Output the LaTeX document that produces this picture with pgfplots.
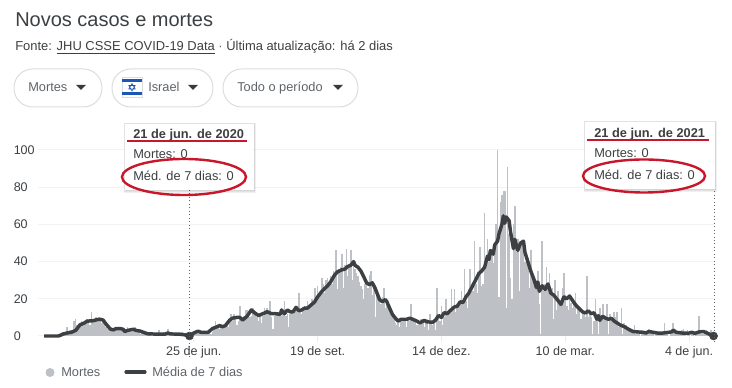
\documentclass[border=0pt]{standalone}
\usepackage{pgfplots}
\usepackage{pgfplotstable}
\pgfplotsset{compat=1.18}
\usepackage{fontspec}
\setmainfont{Liberation Sans}
\definecolor{barc}{HTML}{BDC1C6}
\definecolor{linec}{HTML}{3C4043}
\definecolor{gridc}{HTML}{F1F3F4}
\definecolor{txt}{HTML}{3C4043}
\definecolor{sub}{HTML}{5F6368}
\definecolor{pill}{HTML}{DADCE0}
\definecolor{redm}{HTML}{C8172B}
\definecolor{flagb}{HTML}{1C56B4}
\newcommand{\fs}[1]{\fontsize{#1}{#1}\selectfont}
\pgfplotstableread[row sep=crcr]{
v\\
0\\0\\0\\0\\0\\0\\0\\0\\0\\0\\
0\\0\\1\\2\\1\\2\\5\\1\\3\\2\\
3\\8\\9\\6\\5\\7\\8\\6\\7\\8\\
9\\8\\6\\13\\9\\8\\10\\9\\10\\8\\
7\\8\\6\\5\\4\\3\\3\\4\\2\\3\\
5\\5\\3\\4\\4\\2\\3\\3\\5\\3\\
4\\2\\3\\5\\4\\3\\2\\1\\3\\1\\
1\\1\\1\\1\\1\\0\\1\\1\\1\\1\\
3\\1\\1\\2\\1\\2\\4\\1\\2\\1\\
1\\1\\1\\1\\1\\0\\2\\0\\1\\0\\
0\\0\\0\\1\\1\\2\\1\\3\\2\\1\\
1\\2\\1\\1\\1\\2\\1\\2\\4\\8\\
4\\5\\4\\6\\5\\6\\5\\7\\5\\7\\
12\\8\\12\\9\\6\\8\\16\\10\\8\\11\\
14\\14\\12\\10\\11\\15\\14\\12\\10\\8\\
11\\7\\11\\15\\14\\15\\14\\19\\10\\4\\
11\\12\\13\\13\\12\\11\\14\\19\\11\\12\\
5\\12\\14\\14\\13\\15\\15\\23\\13\\12\\
14\\16\\15\\19\\15\\16\\20\\17\\26\\19\\
27\\21\\24\\31\\28\\23\\30\\31\\27\\32\\
28\\35\\33\\46\\25\\36\\37\\44\\26\\38\\
47\\32\\38\\46\\30\\38\\36\\34\\32\\29\\
27\\25\\20\\28\\30\\26\\33\\35\\22\\27\\
10\\24\\20\\20\\17\\21\\26\\15\\17\\15\\
16\\12\\12\\9\\7\\6\\9\\5\\8\\9\\
8\\9\\5\\9\\8\\17\\8\\9\\8\\6\\
6\\8\\9\\7\\5\\8\\9\\3\\12\\7\\
6\\7\\3\\26\\9\\8\\16\\6\\10\\20\\
13\\12\\14\\25\\16\\25\\13\\15\\17\\17\\
24\\18\\36\\19\\15\\25\\36\\27\\24\\51\\
28\\23\\33\\48\\27\\28\\66\\40\\52\\40\\
42\\44\\39\\46\\60\\100\\21\\72\\76\\78\\
78\\15\\91\\55\\31\\20\\60\\70\\45\\52\\
24\\48\\50\\47\\40\\42\\38\\26\\46\\30\\
32\\28\\30\\35\\17\\1\\51\\24\\28\\37\\
27\\34\\25\\26\\9\\30\\14\\24\\20\\18\\
26\\34\\22\\16\\14\\20\\18\\15\\18\\23\\
12\\15\\14\\9\\13\\12\\10\\32\\10\\12\\
10\\1\\8\\20\\10\\1\\15\\8\\17\\9\\
10\\17\\1\\12\\9\\10\\13\\10\\13\\5\\
6\\15\\1\\7\\6\\4\\5\\4\\3\\2\\
6\\1\\2\\1\\0\\1\\2\\1\\1\\2\\
4\\2\\1\\2\\0\\1\\1\\2\\1\\1\\
2\\7\\2\\1\\0\\2\\1\\7\\3\\1\\
1\\2\\1\\3\\4\\1\\0\\3\\1\\0\\
1\\2\\0\\1\\2\\11\\1\\1\\1\\2\\
3\\1\\2\\3\\1\\0\\
}\deaths
\begin{document}
\begin{tikzpicture}
\useasboundingbox (0,0) rectangle (549pt,291pt);
\begin{axis}[
  at={(28.5pt,39pt)}, anchor=south west,
  scale only axis, width=507pt, height=139.5pt,
  xmin=-4.17, xmax=465.3, ymin=0, ymax=100,
  clip=false,
  axis line style={draw=none},
  ytick={0,20,40,60,80,100},
  ymajorgrids, grid style={gridc,line width=0.75pt},
  ytick style={draw=none},
  xtick={104,190,276,362,448},
  xticklabels={25 de jun.,19 de set.,14 de dez.,10 de mar.,4 de jun.},
  xtick pos=bottom, tick align=outside,
  major tick length=4.5pt,
  xtick style={gridc!70!gray!40,line width=0.75pt},
  tick label style={font=\fs{9.4}, text=txt},
  /pgf/number format/assume math mode=true,
  yticklabel style={anchor=west, xshift=-17.2pt},
]
\addplot[ycomb, draw=barc, line width=1.22pt, mark=none] table[x expr=\coordindex, y=v] {\deaths};
\addplot[linec, line width=2.6pt, line join=round, mark=none] coordinates {
(0,0)(10,0)(12,0.6)(13,1)(16,1.6)(19,2)(22,3)(25,6)(28,7)(30,8)(34,8.2)(37,8.8)(39,9)(41,8.6)(43,6.5)(46,3.8)(48,3.2)(50,4)(53,4)(55,3.6)(56,2.4)(58,3)(62,3.6)(64,3)(67,2.6)(69,2)(72,1.2)(78,1)(84,1)(86,1.6)(88,1.1)(94,1)(98,0.6)(101,0)
(104,1.6)(107,2.6)(109,2)(114,2)(117,4)(119,4.6)(122,5.6)(124,5)(126,5.6)(129,8.6)(131,9.6)(134,10)(136,10)(138,8.6)(141,10.6)(144,14)(146,12.6)(149,11)(152,12)(155,13)(158,12)(161,12)(164,11.6)(165,14)(167,12)(169,14)(171,13)(173,13)(175,15.4)(177,13.6)(179,14)(181,15)(183,15)(186,17)(188,18.4)(190,21)(193,24)(195,25.6)(197,27)(199,29)(200,30.4)(202,33)(204,34.6)(207,35.6)(209,36)(211,37.4)(213,38)(215,40)(216,38)(218,37)(220,35)(222,32)(224,28.6)(226,27.6)(228,28.6)(230,25.6)(233,19.6)(235,18.4)(237,19.6)(238,18.6)(240,15)(242,11.6)(244,9.6)(246,8)(248,9)(252,9)(254,9.6)(256,9)(259,8)(261,7)(264,8.4)(266,7.6)(270,7.4)(272,8.6)(274,11)(276,10)(278,12.6)(280,12)(282,13.6)(285,15.6)(287,16)(289,18.4)(291,18)(293,21)(295,23)(297,26)(299,29)(301,32)(302,33.6)(304,35)(306,37)(308,43)(309,41)(310,46)(312,44)(313,49)(315,51)(316,55)(318,60)(319,64.6)(320,60.6)(321,64)(323,62)(324,56)(326,47)(327,52)(329,46)(331,50)(333,51)(334,45)(336,40)(338,35)(340,31)(342,26)(343,29)(344,24)(346,27)(348,25)(350,28)(352,23)(354,22)(357,19)(359,17)(361,21)(363,20)(365,21.5)(368,18)(370,16)(372,14.5)(374,13)(376,12.4)(378,13.5)(380,12)(382,12.5)(384,9)(385,11)(386,8.4)(388,10.6)(390,9.6)(392,9)(394,9.5)(396,8)(398,7)(400,6)(403,5)(406,3.6)(409,2.4)(412,2.2)(416,2)(418,1.6)(420,2.4)(423,2)(426,1.6)(430,1.6)(434,2)(436,2.2)(437,3.2)(439,2)(443,1.6)(448,1.6)(450,2)(452,1.4)(455,2.2)(458,2.4)(460,1.8)(462,1)(465,0)
};
\addplot[only marks, mark=*, mark size=3pt, mark options={fill=linec,draw=linec}] coordinates {(101,0)(465,0)};
\end{axis}
\begin{scope}[x=0.75pt,y=-0.75pt,yshift=291pt]
\node[anchor=base west,inner sep=0pt,text=txt,font=\fs{15}] at (15,27) {Novos casos e mortes};
\node[anchor=base west,inner sep=0pt,text=txt,font=\fs{9.7}] at (15,51) {Fonte: \underline{JHU CSSE COVID-19 Data} {\color{sub}·} Última atualização: há 2 dias};
\foreach \a/\b in {14/102,112/213,223/358}{
  \draw[pill,line width=0.75pt,rounded corners=14pt] (\a,69) rectangle (\b,107);
}
\node[anchor=base west,inner sep=0pt,text=sub,font=\fs{9.6}] at (28,92) {Mortes};
\node[anchor=base west,inner sep=0pt,text=sub,font=\fs{9.6}] at (148,92) {Israel};
\node[anchor=base west,inner sep=0pt,text=sub,font=\fs{9.6}] at (237,92) {Todo o período};
\foreach \c in {81,193,338}{
  \fill[linec!90!black] (\c-5,85) -- (\c+5,85) -- (\c,90) -- cycle;
}
\fill[white] (122,77) rectangle (142,97);
\draw[pill,line width=0.4pt] (122,77) rectangle (142,97);
\fill[flagb] (122,79) rectangle (142,82);
\fill[flagb] (122,92) rectangle (142,95);
\draw[flagb,line width=0.45pt] (132,83.5) -- (135.2,89) -- (128.8,89) -- cycle;
\draw[flagb,line width=0.45pt] (132,91) -- (135.2,85.5) -- (128.8,85.5) -- cycle;
\draw[sub,line width=0.6pt,dotted] (189.5,190) -- (189.5,358);
\draw[sub,line width=0.6pt,dotted] (714,188) -- (714,342);
\foreach \s in {3,2,1}{
  \fill[black,opacity=0.06] (125-\s*0.5,124-\s*0.3) rectangle (254+\s*0.7,190+\s);
  \fill[black,opacity=0.06] (585-\s*0.5,122-\s*0.3) rectangle (715+\s*0.7,189+\s);
}
\fill[white] (125,124) rectangle (254,190);
\fill[white] (585,122) rectangle (715,189);
\node[anchor=base west,inner sep=0pt,text=txt,font=\fs{9.6}\bfseries] at (133,139) {21 de jun. de 2020};
\node[anchor=base west,inner sep=0pt,text=txt,font=\fs{9.6}] at (133,159) {Mortes: 0};
\node[anchor=base west,inner sep=0pt,text=txt,font=\fs{9.6}] at (133,181) {Méd. de 7 dias: 0};
\node[anchor=base west,inner sep=0pt,text=txt,font=\fs{9.6}\bfseries] at (594,138) {21 de jun. de 2021};
\node[anchor=base west,inner sep=0pt,text=txt,font=\fs{9.6}] at (594,158) {Mortes: 0};
\node[anchor=base west,inner sep=0pt,text=txt,font=\fs{9.6}] at (594,180) {Méd. de 7 dias: 0};
\draw[redm,line width=1.5pt] (127,141.5) -- (247,141.5);
\draw[redm,line width=1.5pt] (587,140) -- (709,140);
\draw[redm,line width=1.8pt] (184,177) ellipse [x radius=62, y radius=18];
\draw[redm,line width=1.8pt] (644,176) ellipse [x radius=61, y radius=16.5];
\fill[barc] (50,372.5) circle [radius=4.5];
\node[anchor=base west,inner sep=0pt,text=sub,font=\fs{9.6}] at (61,377) {Mortes};
\draw[linec,line width=2.4pt,line cap=round] (126,372) -- (145,372);
\node[anchor=base west,inner sep=0pt,text=sub,font=\fs{9.6}] at (152,377) {Média de 7 dias};
\end{scope}
\end{tikzpicture}
\end{document}
